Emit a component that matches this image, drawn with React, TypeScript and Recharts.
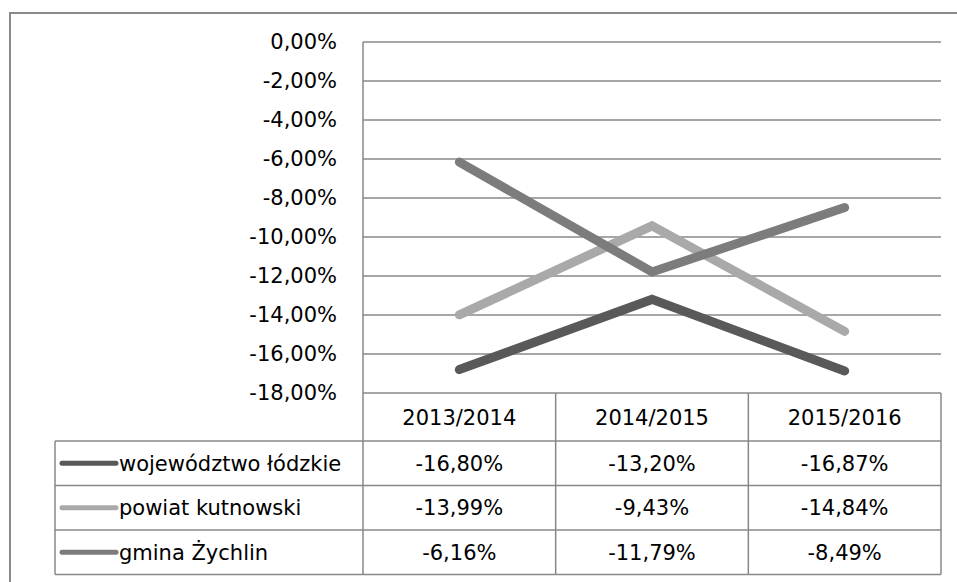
import React from "react";
import { CartesianGrid, Line, LineChart, XAxis, YAxis } from "recharts";

const categories = ["2013/2014", "2014/2015", "2015/2016"];
const wojewodztwo = [-16.8, -13.2, -16.87];
const powiat = [-13.99, -9.43, -14.84];
const gmina = [-6.16, -11.79, -8.49];
const yTicks = [0, -2, -4, -6, -8, -10, -12, -14, -16, -18];

const series = [
  { key: "woj", name: "województwo łódzkie", values: wojewodztwo, color: "#595959" },
  { key: "pow", name: "powiat kutnowski", values: powiat, color: "#a9a9a9" },
  { key: "gm", name: "gmina Żychlin", values: gmina, color: "#7c7c7c" },
];

const data = categories.map((category, i) => {
  const row: Record<string, string | number> = { category };
  series.forEach((s) => (row[s.key] = s.values[i]));
  return row;
});

const W = 957;
const H = 582;
const PLOT_L = 363;
const PLOT_R = 941;
const PLOT_T = 42;
const PLOT_B = 393;
const Y_AXIS_W = 80;
const BAND = (PLOT_R - PLOT_L) / categories.length;
const HEADER_B = 441;
const ROW_H = 44.5;
const TABLE_B = HEADER_B + ROW_H * series.length;
const LEGEND_L = 55;
const LINE_C = "#888888";
const FONT = "DejaVu Sans";
const FS = 21;

const pct = (v: number) => v.toFixed(2).replace(".", ",") + "%";

function TableTick(props: any) {
  const { x, payload, index } = props;
  const i = payload?.index ?? index;
  const left = x - BAND / 2;
  const right = x + BAND / 2;
  const rowMid = (r: number) => HEADER_B + ROW_H * r + ROW_H / 2;
  return (
    <g>
      <text x={x} y={(PLOT_B + HEADER_B) / 2} dy="0.36em" textAnchor="middle" fontSize={FS} fontFamily={FONT} fill="#000">
        {payload.value}
      </text>
      <line x1={right} x2={right} y1={PLOT_B} y2={TABLE_B} stroke={LINE_C} strokeWidth={1.5} />
      {series.map((s, r) => (
        <g key={s.key}>
          <line x1={left} x2={right} y1={HEADER_B + ROW_H * r} y2={HEADER_B + ROW_H * r} stroke={LINE_C} strokeWidth={1.5} />
          <text x={x} y={rowMid(r)} dy="0.36em" textAnchor="middle" fontSize={FS} fontFamily={FONT} fill="#000">
            {pct(s.values[i])}
          </text>
        </g>
      ))}
      <line x1={left} x2={right} y1={TABLE_B} y2={TABLE_B} stroke={LINE_C} strokeWidth={1.5} />
      {i === 0 && (
        <g>
          <line x1={left} x2={left} y1={PLOT_B} y2={TABLE_B} stroke={LINE_C} strokeWidth={1.5} />
          <line x1={LEGEND_L} x2={LEGEND_L} y1={HEADER_B} y2={TABLE_B} stroke={LINE_C} strokeWidth={1.5} />
          {series.map((s, r) => (
            <g key={s.key}>
              <line x1={LEGEND_L} x2={left} y1={HEADER_B + ROW_H * r} y2={HEADER_B + ROW_H * r} stroke={LINE_C} strokeWidth={1.5} />
              <line x1={62} x2={116} y1={rowMid(r)} y2={rowMid(r)} stroke={s.color} strokeWidth={5} strokeLinecap="round" />
              <text x={119} y={rowMid(r)} dy="0.36em" fontSize={FS} fontFamily={FONT} fill="#000">
                {s.name}
              </text>
            </g>
          ))}
          <line x1={LEGEND_L} x2={left} y1={TABLE_B} y2={TABLE_B} stroke={LINE_C} strokeWidth={1.5} />
        </g>
      )}
    </g>
  );
}

export default function App() {
  return (
    <div style={{ position: "absolute", left: 0, top: 0, width: W, height: H, overflow: "hidden", background: "#fff" }}>
      <div
        style={{
          position: "absolute",
          left: 9,
          top: 12,
          width: 1000,
          height: 1000,
          border: "2px solid #8a8a8a",
          boxSizing: "border-box",
        }}
      />
      <LineChart
        width={W}
        height={H}
        data={data}
        margin={{ top: PLOT_T, right: W - PLOT_R, left: PLOT_L - Y_AXIS_W, bottom: 0 }}
        style={{ position: "absolute", left: 0, top: 0 }}
      >
        <CartesianGrid vertical={false} stroke={LINE_C} strokeWidth={1.5} />
        <XAxis
          dataKey="category"
          height={H - PLOT_B}
          padding={{ left: BAND / 2, right: BAND / 2 }}
          axisLine={false}
          tickLine={false}
          interval={0}
          tick={(p: any) => <TableTick {...p} />}
        />
        <YAxis
          width={Y_AXIS_W}
          domain={[-18, 0]}
          ticks={yTicks}
          tickFormatter={pct}
          axisLine={{ stroke: LINE_C, strokeWidth: 1.5 }}
          tickLine={false}
          tickSize={0}
          tickMargin={26}
          tick={{ fontSize: FS, fontFamily: FONT, fill: "#000" }}
        />
        {series.map((s) => (
          <Line
            key={s.key}
            dataKey={s.key}
            name={s.name}
            type="linear"
            stroke={s.color}
            strokeWidth={9}
            strokeLinecap="round"
            strokeLinejoin="miter"
            dot={false}
            activeDot={false}
            isAnimationActive={false}
          />
        ))}
      </LineChart>
    </div>
  );
}
